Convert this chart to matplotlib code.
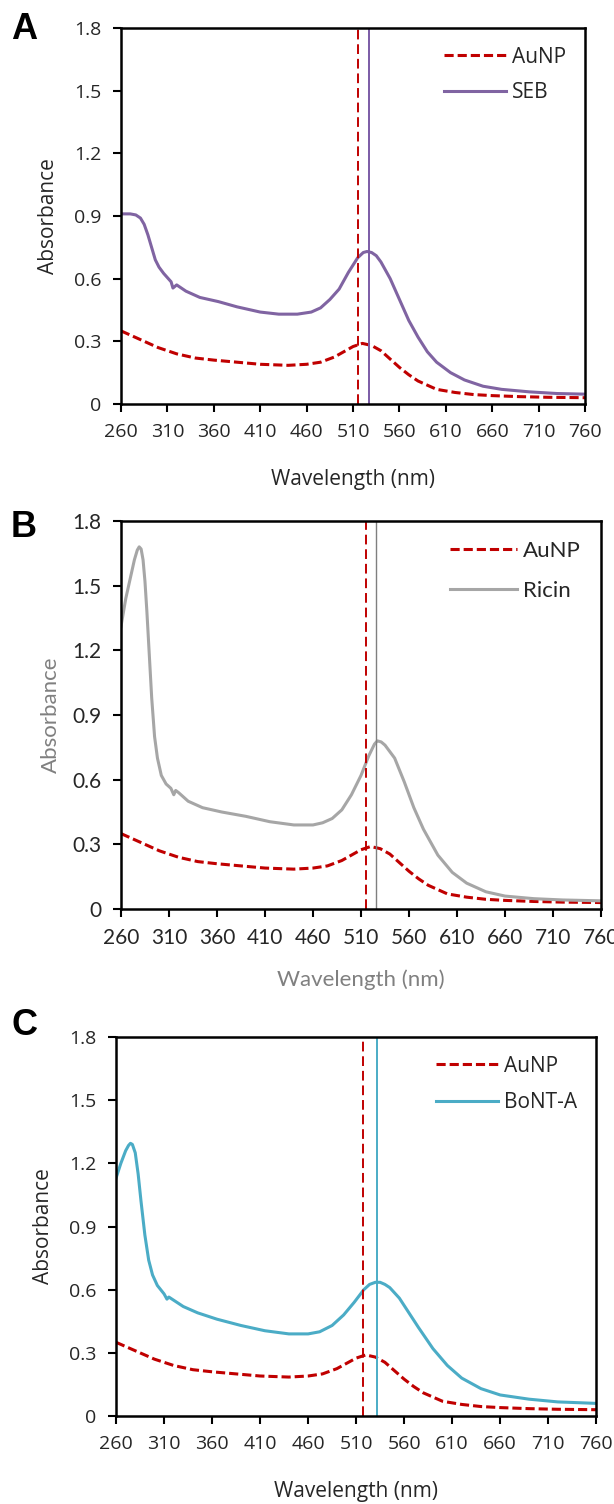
import matplotlib
matplotlib.use("Agg")
import matplotlib.pyplot as plt

# AuNP reference spectrum (same in every panel)
au_wl = [260, 280, 300, 320, 340, 360, 385, 410, 440, 460, 475, 490, 500, 510, 520, 530, 540, 550, 560, 570, 580, 590, 600, 620, 640, 660, 690, 720, 760]
au_abs = [0.35, 0.31, 0.27, 0.24, 0.22, 0.21, 0.20, 0.19, 0.185, 0.19, 0.20, 0.225, 0.25, 0.275, 0.29, 0.28, 0.255, 0.215, 0.175, 0.14, 0.11, 0.09, 0.07, 0.055, 0.045, 0.04, 0.035, 0.032, 0.03]

seb_wl = [260, 270, 276, 281, 285, 289, 293, 297, 301, 306, 311, 314, 316, 320, 330, 345, 365, 385, 410, 430, 450, 465, 475, 485, 495, 505, 515, 521, 525, 530, 535, 540, 550, 560, 570, 580, 590, 600, 615, 630, 650, 670, 700, 730, 760]
seb_abs = [0.91, 0.91, 0.905, 0.89, 0.86, 0.81, 0.75, 0.69, 0.655, 0.625, 0.60, 0.585, 0.555, 0.57, 0.54, 0.51, 0.49, 0.465, 0.44, 0.43, 0.43, 0.44, 0.46, 0.50, 0.55, 0.63, 0.70, 0.725, 0.73, 0.725, 0.71, 0.68, 0.60, 0.50, 0.40, 0.32, 0.25, 0.20, 0.15, 0.115, 0.085, 0.07, 0.058, 0.05, 0.047]

ricin_wl = [260, 265, 270, 274, 277, 279, 281, 283, 285, 287, 289, 292, 295, 298, 302, 307, 312, 315, 317, 320, 330, 345, 365, 390, 415, 440, 460, 470, 480, 490, 500, 510, 518, 524, 527, 531, 535, 545, 555, 565, 575, 590, 605, 620, 640, 660, 690, 720, 760]
ricin_abs = [1.31, 1.44, 1.54, 1.62, 1.665, 1.68, 1.67, 1.62, 1.52, 1.38, 1.22, 0.98, 0.80, 0.70, 0.62, 0.58, 0.56, 0.53, 0.55, 0.54, 0.50, 0.47, 0.45, 0.43, 0.405, 0.39, 0.39, 0.40, 0.42, 0.46, 0.53, 0.62, 0.71, 0.765, 0.78, 0.775, 0.76, 0.70, 0.59, 0.47, 0.37, 0.25, 0.17, 0.12, 0.08, 0.06, 0.048, 0.042, 0.038]

bont_wl = [260, 265, 270, 273, 275, 277, 280, 283, 286, 290, 294, 298, 303, 310, 313, 315, 320, 330, 345, 365, 390, 415, 440, 460, 472, 485, 497, 508, 518, 524, 530, 535, 540, 545, 555, 565, 575, 590, 605, 620, 640, 660, 690, 720, 760]
bont_abs = [1.13, 1.20, 1.26, 1.285, 1.295, 1.29, 1.25, 1.15, 1.02, 0.86, 0.74, 0.67, 0.62, 0.58, 0.555, 0.565, 0.55, 0.52, 0.49, 0.46, 0.43, 0.405, 0.39, 0.39, 0.40, 0.43, 0.48, 0.54, 0.60, 0.625, 0.635, 0.635, 0.625, 0.61, 0.56, 0.49, 0.42, 0.32, 0.24, 0.18, 0.13, 0.10, 0.08, 0.067, 0.06]

# peak markers (nm)
au_peak = [515, 515, 517]
sample_peak = [527, 526, 532]

x_ticks = list(range(260, 761, 50))
y_ticks = [0, 0.3, 0.6, 0.9, 1.2, 1.5, 1.8]
y_labels = ["0", "0.3", "0.6", "0.9", "1.2", "1.5", "1.8"]

panels = [
    dict(letter="A", name="SEB", wl=seb_wl, ab=seb_abs, color="#8064A2", vcolor="#7B5BA6", vlw=1.4,
         rect=[0.197, 0.7314, 0.756, 0.25], font="Open Sans", size=14, lblcolor="#262626",
         xpad=20, ypad=11, lspace=0.7),
    dict(letter="B", name="Ricin", wl=ricin_wl, ab=ricin_abs, color="#A6A6A6", vcolor="#7F7F7F", vlw=1.0,
         rect=[0.197, 0.3956, 0.782, 0.258], font="Lato", size=15, lblcolor="#808080",
         xpad=15, ypad=8, lspace=0.9),
    dict(letter="C", name="BoNT-A", wl=bont_wl, ab=bont_abs, color="#4BACC6", vcolor="#4BACC6", vlw=1.4,
         rect=[0.189, 0.0585, 0.782, 0.252], font="Open Sans", size=14, lblcolor="#262626",
         xpad=20, ypad=11, lspace=0.75),
]
letter_y = [0.974, 0.643, 0.312]

fig = plt.figure(figsize=(6.14, 15.04), dpi=100)

for i, p in enumerate(panels):
    ax = fig.add_axes(p["rect"])
    fam = [p["font"], "DejaVu Sans"]
    ax.plot(au_wl, au_abs, color="#C00000", lw=2.2, ls=(0, (3, 1.3)), label="AuNP")
    ax.plot(p["wl"], p["ab"], color=p["color"], lw=2.2, label=p["name"])
    ax.axvline(au_peak[i], color="#C00000", lw=1.4, ls=(0, (5, 2.5)))
    ax.axvline(sample_peak[i], color=p["vcolor"], lw=p["vlw"])
    ax.set_xlim(260, 760)
    ax.set_ylim(0, 1.8)
    ax.set_xticks(x_ticks)
    ax.set_yticks(y_ticks)
    ax.set_yticklabels(y_labels)
    for s in ax.spines.values():
        s.set_linewidth(1.8)
        s.set_color("black")
    ax.tick_params(direction="out", length=6, width=1.5, labelsize=p["size"],
                   labelcolor="#262626", color="black", pad=8)
    for t in ax.get_xticklabels() + ax.get_yticklabels():
        t.set_family(fam)
    ax.set_xlabel("Wavelength (nm)", fontsize=p["size"] + 1, family=fam, color=p["lblcolor"], labelpad=p["xpad"])
    ax.set_ylabel("Absorbance", fontsize=p["size"] + 1, family=fam, color=p["lblcolor"], labelpad=p["ypad"])
    leg = ax.legend(loc="upper right", frameon=False, handlelength=3.0, handletextpad=0.3,
                    prop={"family": fam, "size": p["size"] + 1}, borderaxespad=0.5,
                    labelspacing=p["lspace"])
    for t in leg.get_texts():
        t.set_color("#262626")
    fig.text(0.018, letter_y[i], p["letter"], fontsize=26, fontweight="bold",
             family=["Liberation Sans", "DejaVu Sans"], va="baseline", ha="left")

fig.savefig("out.png", dpi=100)
